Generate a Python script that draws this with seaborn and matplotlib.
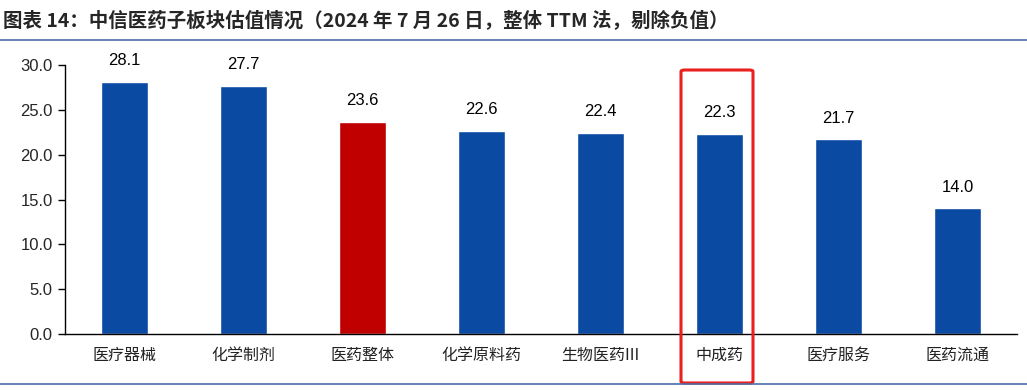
import matplotlib
matplotlib.use("Agg")
import matplotlib.pyplot as plt
import seaborn as sns
import pandas as pd
from matplotlib.patches import FancyBboxPatch
from matplotlib.lines import Line2D

categories = ["医疗器械", "化学制剂", "医药整体", "化学原料药", "生物医药III", "中成药", "医疗服务", "医药流通"]
values = [28.1, 27.7, 23.6, 22.6, 22.4, 22.3, 21.7, 14.0]
yticks = [0.0, 5.0, 10.0, 15.0, 20.0, 25.0, 30.0]
title = "图表 14：中信医药子板块估值情况（2024 年 7 月 26 日，整体 TTM 法，剔除负值）"

sns.set_theme(style="white")
plt.rcParams['font.family'] = ['Liberation Sans', 'Noto Sans CJK SC', 'DejaVu Sans']

W, H = 1027, 390
fig = plt.figure(figsize=(W/100, H/100), dpi=100)
ax = fig.add_axes([65/W, 1-334/H, (1017-65)/W, (334-65)/H])

df = pd.DataFrame({"cat": categories, "val": values})
palette = ["#C00000" if c == "医药整体" else "#0B4AA2" for c in categories]
sns.barplot(data=df, x="cat", y="val", hue="cat", palette=palette, legend=False,
            width=0.40, ax=ax, saturation=1)

ax.set_ylim(0, 30)
ax.set_xlim(-0.5, len(categories)-0.5)
ax.set_yticks(yticks)
ax.set_yticklabels([f"{t:.1f}" for t in yticks], fontsize=12, family=['Liberation Sans'])
ax.set_xlabel("")
ax.set_ylabel("")
ax.tick_params(axis='y', direction='out', length=5, width=1, color='black', pad=4, left=True)
ax.tick_params(axis='x', length=0, pad=9)
for lab in ax.get_xticklabels():
    lab.set_fontsize(11.5)
    lab.set_family(['Noto Sans CJK SC', 'DejaVu Sans'])
    lab.set_color('#222222')
for s in ['top', 'right']:
    ax.spines[s].set_visible(False)
for s in ['left', 'bottom']:
    ax.spines[s].set_color('black')
    ax.spines[s].set_linewidth(1)

for i, v in enumerate(values):
    ax.annotate(f"{v:.1f}", (i, v), xytext=(0, 10), textcoords='offset points',
                ha='center', va='bottom', fontsize=12, family=['Liberation Sans'], color='black')

fig.text(3/W, 1-20/H, title, fontsize=14, fontweight='bold', va='center', ha='left',
         family=['Noto Sans CJK SC', 'DejaVu Sans'])
fig.add_artist(Line2D([0, 1], [1-40/H, 1-40/H], color='#4A6FA5', lw=1.2, transform=fig.transFigure))
fig.add_artist(Line2D([0, 1], [1-384/H, 1-384/H], color='#4A6FA5', lw=1.2, transform=fig.transFigure))

box = FancyBboxPatch((681/W, 1-383/H), (753-681)/W, (383-70)/H,
                     boxstyle="round,pad=0,rounding_size=0.004", transform=fig.transFigure,
                     fill=False, edgecolor='#E8201E', lw=2.2)
fig.add_artist(box)

fig.savefig("out.png", dpi=100)
